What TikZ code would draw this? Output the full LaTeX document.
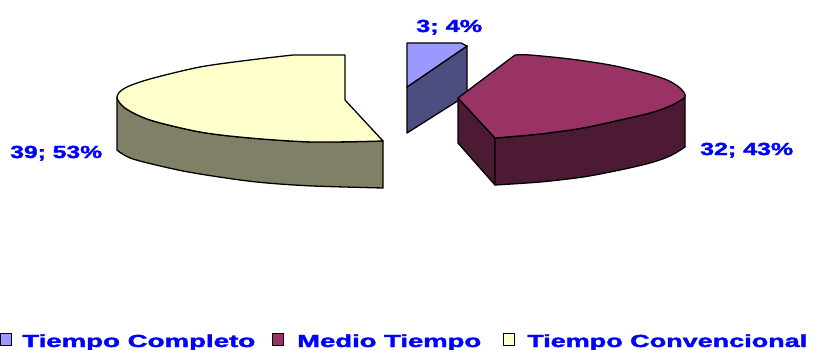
\documentclass[tikz,border=0pt]{standalone}
\usepackage{fontspec}
\setmainfont{Liberation Sans}[BoldFeatures={FakeBold=1.6}]
\usepackage{graphicx}
\definecolor{ytop}{HTML}{FFFFCC}
\definecolor{yside}{HTML}{808066}
\definecolor{ptop}{HTML}{993366}
\definecolor{pside}{HTML}{4D1A33}
\definecolor{btop}{HTML}{9999FF}
\definecolor{bside}{HTML}{4D4D80}
\definecolor{txtblue}{HTML}{0000FF}
\tikzset{
  face/.style={draw=black, line width=1.3pt, line join=round},
  lbl/.style={anchor=base west, inner sep=0pt, text=txtblue, font=\fontsize{17.5}{20}\selectfont\bfseries},
  keybox/.style={draw=black, line width=1.3pt, minimum width=11pt, minimum height=12pt, inner sep=0pt, anchor=south west},
}
\begin{document}
\begin{tikzpicture}[x=1pt,y=-1pt]
\useasboundingbox (0,0) rectangle (813,350);
% ---- Tiempo Convencional (yellow) ----
\path[face, fill=yside] (117,97) -- plot[smooth] coordinates {(117,97) (125,108) (150,120) (200,132) (250,138) (313,142) (383,141)}
  -- (383,188) -- plot[smooth] coordinates {(383,188) (313,186) (267,183) (233,179) (183,171) (133,159) (117,150)} -- cycle;
\path[face, fill=ytop] (383,141) -- (345,100) -- (345,55) -- plot[smooth] coordinates {(293,55) (250,60) (200,67) (150,79) (125,88) (117,97) (125,108) (150,120) (200,132) (250,138) (313,142) (383,141)} -- cycle;
% ---- Tiempo Completo (blue) ----
\path[face, fill=bside] (407,87) -- (467,46) -- (467,95) -- (407,133) -- cycle;
\path[face, fill=btop] (407,43) -- (461,43) -- (467,46) -- (407,87) -- cycle;
% ---- Medio Tiempo (purple) ----
\path[face, fill=pside] (458,98) -- (495,138) -- (495,185) -- (458,143) -- cycle;
\path[face, fill=pside] (495,138) -- plot[smooth] coordinates {(495,138) (540,134) (583,128) (620,120) (650,113) (670,106) (685,97)}
  -- (685,147) -- plot[smooth] coordinates {(685,147) (670,156) (650,163) (620,170) (583,177) (540,182) (495,185)} -- cycle;
\path[face, fill=ptop] (458,98) -- (515,55) -- plot[smooth] coordinates {(515,55) (530,55) (570,59) (610,65) (645,73) (667,80) (680,88) (685,97) (670,106) (650,113) (620,120) (583,128) (540,134) (495,138)} -- cycle;
% ---- data labels ----
\node[lbl] (l1) at (416,32) {\resizebox{66pt}{\height}{3; 4\%}};
\node[lbl] (l2) at (10,158) {\resizebox{92pt}{\height}{39; 53\%}};
\node[lbl] (l3) at (700,155) {\resizebox{93pt}{\height}{32; 43\%}};
% ---- legend ----
\node[keybox, fill=btop] (k1) at (0,346) {};
\node[lbl] (t1) at (22,347) {\resizebox{233pt}{\height}{Tiempo Completo}};
\node[keybox, fill=ptop] (k2) at (272,346) {};
\node[lbl] (t2) at (297,347) {\resizebox{184pt}{\height}{Medio Tiempo}};
\node[keybox, fill=ytop] (k3) at (503,346) {};
\node[lbl] (t3) at (527,347) {\resizebox{280pt}{\height}{Tiempo Convencional}};
\end{tikzpicture}
\end{document}
